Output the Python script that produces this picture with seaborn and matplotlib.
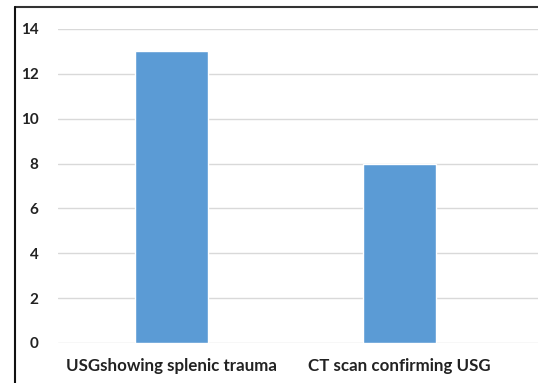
import matplotlib
matplotlib.use("Agg")
import matplotlib.pyplot as plt
from matplotlib.lines import Line2D
import seaborn as sns
import pandas as pd

categories = ["USGshowing splenic trauma", "CT scan confirming USG"]
counts = [13, 8]
y_ticks = [0, 2, 4, 6, 8, 10, 12, 14]

df = pd.DataFrame({"category": categories, "count": counts})

sns.set_theme(style="white")
plt.rcParams["font.family"] = ["Lato", "DejaVu Sans"]

fig = plt.figure(figsize=(5.38, 3.83), dpi=100)
ax = fig.add_axes([58 / 538, 40 / 383, 1 - 58 / 538, (343 - 29) / 383])

sns.barplot(data=df, x="category", y="count", color="#5B9BD5",
            width=0.32, saturation=1, ax=ax, zorder=3)

ax.set_ylim(0, 14)
ax.set_xlim(-0.5, 1.61)
ax.set_yticks(y_ticks)
ax.set_yticklabels([str(t) for t in y_ticks], fontsize=11,
                   fontweight="bold", color="#222222")
ax.tick_params(axis="y", length=0, pad=14)
ax.tick_params(axis="x", length=0, pad=11)
for lbl in ax.get_xticklabels():
    lbl.set_fontsize(12.2)
    lbl.set_fontweight("bold")
    lbl.set_color("#222222")
ax.set_xlabel("")
ax.set_ylabel("")

ax.yaxis.grid(True, color="#d9d9d9", linewidth=1)
ax.set_axisbelow(True)
for s in ax.spines.values():
    s.set_visible(False)

# outer frame: top and left edges
fig.add_artist(Line2D([15 / 538, 1], [1 - 7 / 383, 1 - 7 / 383],
                      transform=fig.transFigure, color="#333333", linewidth=1.5))
fig.add_artist(Line2D([15 / 538, 15 / 538], [0, 1 - 7 / 383],
                      transform=fig.transFigure, color="#111111", linewidth=1.5))

fig.savefig("out.png", dpi=100)
